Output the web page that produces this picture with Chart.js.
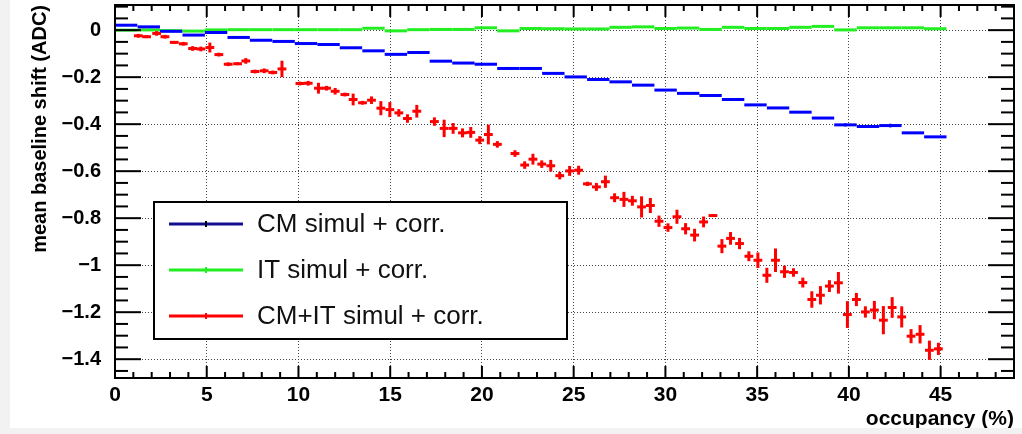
<!DOCTYPE html>
<html>
<head>
<meta charset="utf-8">
<script src="https://cdn.jsdelivr.net/npm/chart.js@4.4.1/dist/chart.umd.min.js"></script>
<style>
  html, body { margin: 0; padding: 0; width: 1022px; height: 434px; overflow: hidden; background: #f2f2f2; }
  #wrap { position: absolute; left: 10px; top: 0; width: 1012px; height: 428px; background: #fff; }
</style>
</head>
<body>
<div id="wrap"><canvas id="shiftChart" width="1012" height="428"></canvas></div>
<script>
// axis ticks
const xTicks = [0, 5, 10, 15, 20, 25, 30, 35, 40, 45];
const yTicks = [-1.4, -1.2, -1, -0.8, -0.6, -0.4, -0.2, 0];

// CM and IT: wide bins (centre, half width 0.61)
const binCentres = [0.61, 1.84, 3.06, 4.29, 5.51, 6.74, 7.96, 9.19, 10.41, 11.64, 12.86, 14.09, 15.31,
  16.54, 17.76, 18.99, 20.21, 21.44, 22.66, 23.89, 25.11, 26.34, 27.56, 28.79, 30.01, 31.24, 32.46,
  33.69, 34.91, 36.14, 37.36, 38.59, 39.81, 41.04, 42.26, 43.49, 44.71];
const cmShift = [0.021, 0.014, -0.005, -0.021, -0.010, -0.031, -0.043, -0.048, -0.057, -0.061, -0.075,
  -0.088, -0.103, -0.095, -0.132, -0.140, -0.145, -0.163, -0.163, -0.184, -0.199, -0.210, -0.220,
  -0.234, -0.255, -0.269, -0.278, -0.295, -0.318, -0.331, -0.349, -0.374, -0.403, -0.410, -0.406,
  -0.437, -0.454];
const cmErr = [0.002, 0.002, 0.002, 0.002, 0.002, 0.002, 0.002, 0.002, 0.002, 0.002, 0.002, 0.002,
  0.002, 0.002, 0.002, 0.002, 0.002, 0.002, 0.002, 0.002, 0.002, 0.002, 0.002, 0.002, 0.002, 0.003,
  0.003, 0.003, 0.003, 0.004, 0.003, 0.003, 0.007, 0.003, 0.008, 0.003, 0.003];
const itShift = [0.000, 0.001, -0.002, -0.004, 0.001, 0.002, 0.002, 0.002, 0.002, 0.002, 0.002, 0.008,
  -0.003, 0.002, 0.003, 0.003, 0.010, -0.003, 0.007, 0.006, 0.005, 0.005, 0.012, 0.014, 0.007, 0.009,
  0.003, 0.012, 0.007, 0.007, 0.012, 0.016, 0.001, 0.010, 0.010, 0.010, 0.006];
const itErr = [0.002, 0.002, 0.002, 0.002, 0.002, 0.002, 0.002, 0.002, 0.002, 0.002, 0.002, 0.002,
  0.002, 0.002, 0.002, 0.002, 0.002, 0.002, 0.002, 0.002, 0.002, 0.002, 0.002, 0.002, 0.002, 0.002,
  0.002, 0.002, 0.002, 0.002, 0.002, 0.002, 0.002, 0.002, 0.002, 0.002, 0.002];

// CM+IT: narrow bins
const combOcc = [1.27, 1.72, 2.27, 2.72, 3.23, 3.72, 4.23, 4.68, 5.17, 5.66, 6.17, 6.68, 7.13, 7.63,
  8.13, 8.60, 9.10, 10.08, 10.53, 11.09, 11.53, 12.00, 12.53, 12.98, 13.49, 13.98, 14.49, 14.98,
  15.47, 15.94, 16.45, 17.41, 17.94, 18.43, 18.94, 19.39, 19.88, 20.35, 20.84, 21.80, 22.33, 22.78,
  23.26, 23.75, 24.24, 24.78, 25.27, 25.75, 26.24, 26.73, 27.23, 27.74, 28.20, 28.70, 29.18, 29.65,
  30.14, 30.63, 31.10, 31.59, 32.08, 32.59, 33.08, 33.55, 34.04, 34.55, 35.04, 35.53, 36.00, 36.49,
  36.98, 37.49, 37.98, 38.45, 38.94, 39.43, 39.92, 40.41, 40.90, 41.39, 41.88, 42.36, 42.88, 43.39,
  43.88, 44.39, 44.88];
const combShift = [-0.024, -0.028, -0.014, -0.028, -0.052, -0.058, -0.078, -0.080, -0.074, -0.104,
  -0.145, -0.143, -0.131, -0.176, -0.173, -0.180, -0.165, -0.227, -0.226, -0.247, -0.247, -0.260,
  -0.274, -0.295, -0.309, -0.298, -0.332, -0.338, -0.352, -0.376, -0.345, -0.389, -0.418, -0.418,
  -0.437, -0.435, -0.468, -0.444, -0.486, -0.525, -0.574, -0.549, -0.570, -0.577, -0.619, -0.599,
  -0.596, -0.654, -0.667, -0.645, -0.713, -0.720, -0.726, -0.752, -0.746, -0.813, -0.840, -0.794,
  -0.845, -0.872, -0.816, -0.789, -0.919, -0.886, -0.908, -0.962, -0.979, -1.043, -0.979, -1.028,
  -1.031, -1.074, -1.146, -1.128, -1.089, -1.075, -1.210, -1.146, -1.199, -1.191, -1.234, -1.180,
  -1.220, -1.302, -1.294, -1.362, -1.356];
const combErr = [0.008, 0.006, 0.010, 0.008, 0.006, 0.008, 0.010, 0.010, 0.021, 0.008, 0.008, 0.006,
  0.012, 0.008, 0.010, 0.008, 0.035, 0.008, 0.010, 0.023, 0.010, 0.014, 0.008, 0.025, 0.008, 0.016,
  0.030, 0.032, 0.016, 0.018, 0.027, 0.018, 0.037, 0.023, 0.019, 0.023, 0.017, 0.042, 0.014, 0.014,
  0.016, 0.023, 0.016, 0.025, 0.016, 0.021, 0.019, 0.009, 0.017, 0.026, 0.019, 0.032, 0.021, 0.045,
  0.032, 0.024, 0.018, 0.030, 0.024, 0.027, 0.023, 0.005, 0.030, 0.027, 0.024, 0.021, 0.033, 0.032,
  0.050, 0.026, 0.018, 0.021, 0.035, 0.039, 0.025, 0.046, 0.057, 0.028, 0.024, 0.039, 0.060, 0.044,
  0.045, 0.030, 0.039, 0.041, 0.026];

const FONT = '"Liberation Sans", Arial, Helvetica, sans-serif';

function points(xs, ys, xErr, yErrs) {
    return xs.map((x, i) => ({ x: x, y: ys[i], xErr: xErr, yErr: yErrs[i] }));
}

const fmtY = v => v === 0 ? '0' : '\u2212' + String(Math.round(Math.abs(v) * 10) / 10);

// horizontal + vertical error bars, ROOT style
const errorBars = {
    id: 'errorBars',
    afterDatasetsDraw(chart) {
        const { ctx, chartArea: a, scales: { x, y } } = chart;
        ctx.save();
        ctx.beginPath();
        ctx.rect(a.left, a.top, a.right - a.left, a.bottom - a.top);
        ctx.clip();
        chart.data.datasets.forEach(ds => {
            ctx.strokeStyle = ds.borderColor;
            ds.data.forEach(p => {
                const px = x.getPixelForValue(p.x);
                const py = y.getPixelForValue(p.y);
                ctx.lineWidth = ds.hWidth;
                ctx.beginPath();
                ctx.moveTo(x.getPixelForValue(p.x - p.xErr), py);
                ctx.lineTo(x.getPixelForValue(p.x + p.xErr), py);
                ctx.stroke();
                ctx.lineWidth = ds.vWidth;
                ctx.beginPath();
                ctx.moveTo(px, y.getPixelForValue(p.y + p.yErr));
                ctx.lineTo(px, y.getPixelForValue(p.y - p.yErr));
                ctx.stroke();
            });
        });
        ctx.restore();
    }
};

// frame, inward ticks on all four sides, and the legend box
const rootFrame = {
    id: 'rootFrame',
    afterDraw(chart) {
        const { ctx, chartArea: a, scales: { x, y } } = chart;
        ctx.save();
        ctx.strokeStyle = '#000';
        ctx.lineWidth = 2;
        const tick = (x1, y1, x2, y2) => { ctx.beginPath(); ctx.moveTo(x1, y1); ctx.lineTo(x2, y2); ctx.stroke(); };

        for (let v = Math.ceil(y.min / 0.05) * 0.05; v <= y.max; v += 0.05) {
            const py = y.getPixelForValue(v);
            const major = Math.abs(v / 0.2 - Math.round(v / 0.2)) < 1e-6;
            const len = major ? 26 : 13;
            tick(a.left, py, a.left + len, py);
            tick(a.right, py, a.right - len, py);
        }
        for (let v = 1; v < x.max; v++) {
            const px = x.getPixelForValue(v);
            const len = v % 5 === 0 ? 12 : 6;
            tick(px, a.bottom, px, a.bottom - len);
            tick(px, a.top, px, a.top + len);
        }
        ctx.strokeRect(a.left, a.top, a.right - a.left, a.bottom - a.top);

        // legend
        const box = { left: 144, top: 202, right: 557, bottom: 339 };
        ctx.fillStyle = '#fff';
        ctx.fillRect(box.left, box.top, box.right - box.left, box.bottom - box.top);
        ctx.strokeRect(box.left, box.top, box.right - box.left, box.bottom - box.top);
        const rows = [224, 270, 316];
        ctx.font = '26px ' + FONT;
        ctx.textBaseline = 'middle';
        ctx.textAlign = 'left';
        chart.data.datasets.forEach(ds => {
            const ly = rows[ds.legendRow];
            ctx.strokeStyle = ds.legendColor;
            ctx.lineWidth = 3;
            tick(159, ly, 233, ly);
            ctx.strokeStyle = ds.legendMark;
            ctx.lineWidth = 2;
            tick(196, ly - 3, 196, ly + 3);
            ctx.fillStyle = '#111';
            ctx.fillText(ds.label, 247, ly + 1);
        });
        ctx.restore();
    }
};

new Chart(document.getElementById('shiftChart'), {
    type: 'scatter',
    data: {
        datasets: [
            {
                label: 'IT simul + corr.',
                data: points(binCentres, itShift, 0.61, itErr),
                borderColor: '#22ee22',
                legendColor: '#22ee22', legendMark: '#22ee22', legendRow: 1,
                hWidth: 3, vWidth: 2, pointRadius: 0, showLine: false
            },
            {
                label: 'CM simul + corr.',
                data: points(binCentres, cmShift, 0.61, cmErr),
                borderColor: '#0000ff',
                legendColor: '#10108f', legendMark: '#000', legendRow: 0,
                hWidth: 3, vWidth: 2, pointRadius: 0, showLine: false
            },
            {
                label: 'CM+IT simul + corr.',
                data: points(combOcc, combShift, 0.24, combErr),
                borderColor: '#ff0000',
                legendColor: '#ff0000', legendMark: '#ff0000', legendRow: 2,
                hWidth: 3, vWidth: 3, pointRadius: 0, showLine: false
            }
        ]
    },
    options: {
        responsive: false,
        animation: false,
        layout: { padding: { top: 5, right: 8, left: 0, bottom: 0 } },
        plugins: {
            legend: { display: false },
            tooltip: { enabled: false }
        },
        scales: {
            x: {
                type: 'linear',
                min: 0,
                max: 49,
                afterBuildTicks: s => { s.ticks = xTicks.map(v => ({ value: v })); },
                afterFit: s => { s.height = 50; s.paddingLeft = 0; s.paddingRight = 0; },
                grid: { color: '#444', lineWidth: 1, drawTicks: false },
                border: { display: false, dash: [1, 2] },
                ticks: {
                    color: '#000',
                    padding: 5,
                    maxRotation: 0,
                    autoSkip: false,
                    font: { family: FONT, size: 21, weight: 'bold' }
                },
                title: {
                    display: true,
                    text: 'occupancy (%)',
                    align: 'end',
                    color: '#000',
                    padding: { top: 0, bottom: -4 },
                    font: { family: FONT, size: 21, weight: 'bold' }
                }
            },
            y: {
                type: 'linear',
                min: -1.48,
                max: 0.107,
                afterBuildTicks: s => { s.ticks = yTicks.map(v => ({ value: v })); },
                afterFit: s => { s.width = 105; s.paddingTop = 0; s.paddingBottom = 0; },
                grid: { color: '#444', lineWidth: 1, drawTicks: false },
                border: { display: false, dash: [1, 2] },
                ticks: {
                    color: '#000',
                    padding: 14,
                    callback: v => fmtY(v),
                    font: { family: FONT, size: 20, weight: 'bold' }
                },
                title: {
                    display: true,
                    text: 'mean baseline shift (ADC)',
                    align: 'end',
                    color: '#000',
                    padding: { top: 18, bottom: 0 },
                    font: { family: FONT, size: 20, weight: 'bold' }
                }
            }
        }
    },
    plugins: [errorBars, rootFrame]
});
</script>
</body>
</html>
